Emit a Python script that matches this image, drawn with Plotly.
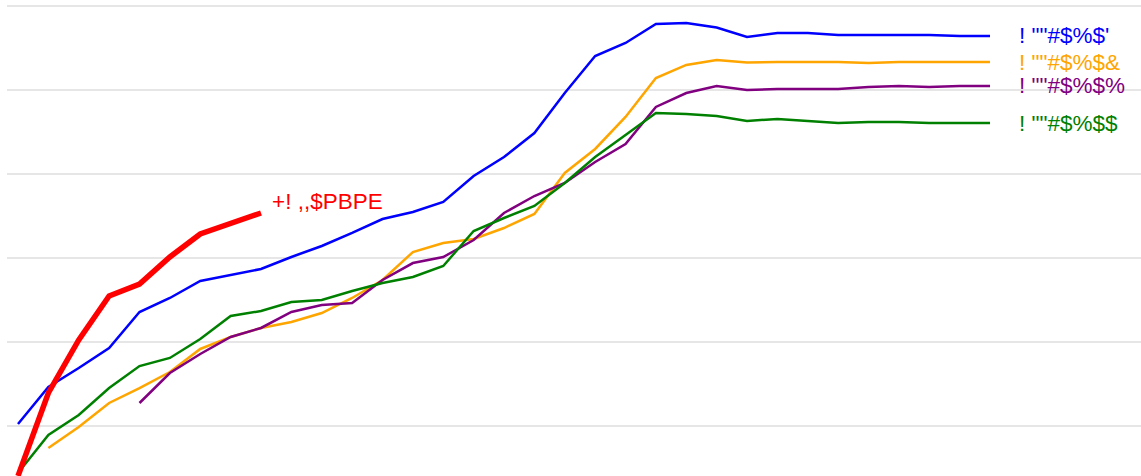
import plotly.graph_objects as go

steps = list(range(33))

blue_vals = [0.24, 4.64, 6.90, 9.29, 13.57, 15.24, 17.26, 17.98, 18.69, 20.12, 21.43, 22.98,
             24.64, 25.48, 26.67, 29.76, 32.02, 34.88, 39.64, 44.05, 45.60, 47.86, 47.98,
             47.44, 46.31, 46.79, 46.79, 46.55, 46.55, 46.55, 46.55, 46.43, 46.43]
orange_vals = [None, -2.62, -0.12, 2.74, 4.52, 6.43, 9.17, 10.60, 11.67, 12.38, 13.45, 15.24,
               17.38, 20.71, 21.79, 22.26, 23.57, 25.24, 30.12, 32.98, 36.79, 41.43, 42.98,
               43.57, 43.27, 43.33, 43.33, 43.33, 43.21, 43.33, 43.33, 43.33, 43.33]
purple_vals = [None, None, None, None, 2.74, 6.31, 8.57, 10.60, 11.67, 13.57, 14.40, 14.64,
               17.38, 19.40, 20.12, 22.14, 25.36, 27.38, 28.93, 31.43, 33.57, 37.98, 39.64,
               40.48, 40.00, 40.12, 40.12, 40.12, 40.36, 40.48, 40.36, 40.48, 40.48]
green_vals = [-5.60, -1.07, 1.31, 4.52, 7.14, 8.10, 10.36, 13.10, 13.69, 14.76, 15.00, 16.07,
              17.02, 17.74, 19.05, 23.21, 24.76, 26.19, 28.93, 32.02, 34.64, 37.26, 37.14,
              36.90, 36.31, 36.55, 36.31, 36.07, 36.19, 36.19, 36.07, 36.07, 36.07]
red_vals = [-5.95, 3.93, 10.24, 15.48, 16.90, 20.12, 22.86, 24.05, 25.36]

series = [
    ("! \"\"#$%$'", blue_vals, "#0000ff"),
    ("! \"\"#$%$&", orange_vals, "#ffa500"),
    ("! \"\"#$%$%", purple_vals, "#800080"),
    ("! \"\"#$%$$", green_vals, "#008000"),
]
red_label = "+! ,,$PBPE"

FONT = "Liberation Sans, Arial, sans-serif"

fig = go.Figure()
annotations = []
for name, vals, color in series:
    fig.add_trace(go.Scatter(x=steps, y=vals, mode="lines", name=name,
                             line=dict(color=color, width=2.5), connectgaps=False,
                             hoverinfo="skip"))
    annotations.append(dict(x=steps[-1], y=vals[-1], xref="x", yref="y", text=name,
                            showarrow=False, xanchor="left", yanchor="middle", xshift=27,
                            font=dict(family=FONT, size=22.5, color=color)))

red_x = steps[:len(red_vals)]
fig.add_trace(go.Scatter(x=red_x, y=red_vals, mode="lines", name=red_label,
                         line=dict(color="#ff0000", width=5.5), hoverinfo="skip"))
annotations.append(dict(x=red_x[-1], y=red_vals[-1], xref="x", yref="y", text=red_label,
                        showarrow=False, xanchor="left", yanchor="middle", xshift=9, yshift=11,
                        font=dict(family=FONT, size=22.5, color="#ff0000")))

fig.update_layout(
    width=1141, height=476,
    margin=dict(l=7, r=0, t=0, b=0),
    paper_bgcolor="white", plot_bgcolor="white",
    showlegend=False,
    annotations=annotations,
    xaxis=dict(range=[-0.362, 36.97], visible=False, showgrid=False, zeroline=False),
    yaxis=dict(range=[-5.952, 50.714], showgrid=True, gridcolor="#e6e6e6", gridwidth=2,
               tick0=0, dtick=10, showticklabels=False, zeroline=False, ticks=""),
)

fig.write_html("out.html", config={"displayModeBar": False},
               post_script="document.body.style.margin='0';")
